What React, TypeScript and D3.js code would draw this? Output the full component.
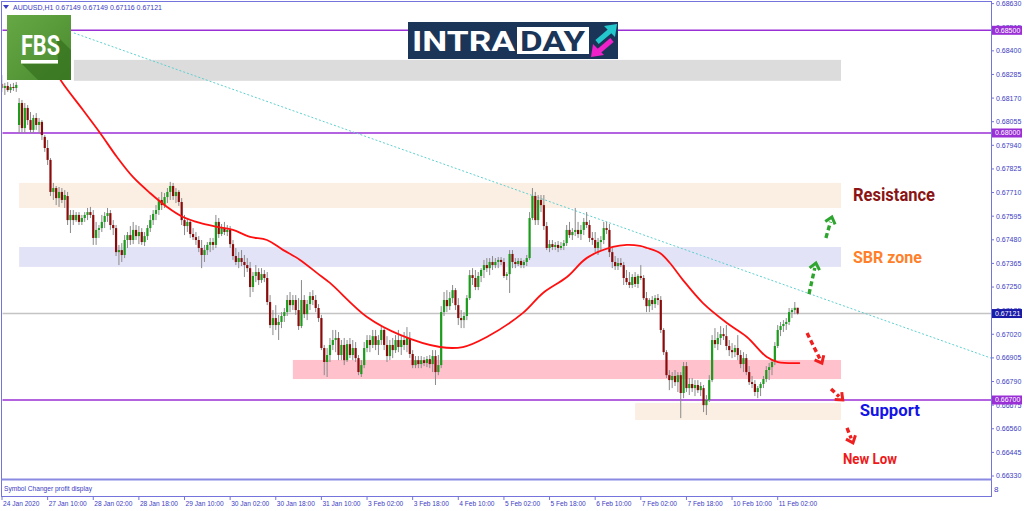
import React from 'react';
import * as d3 from 'd3';

type C = [number, number, number, number]; // open, high, low, close

// ---- hourly AUDUSD candles, one array per trading day ----
const jan24: C[] = [
  [0.68239, 0.68282, 0.68200, 0.68219], [0.68219, 0.68244, 0.68185, 0.68229], [0.68229, 0.68248, 0.68200, 0.68209],
  [0.68209, 0.68239, 0.68195, 0.68224], [0.68224, 0.68244, 0.68205, 0.68219], [0.68219, 0.68248, 0.68200, 0.68234],
];
const jan27: C[] = [
  [0.68039, 0.68170, 0.68000, 0.68146], [0.68146, 0.68161, 0.68000, 0.68024], [0.68024, 0.68146, 0.68000, 0.68122],
  [0.68122, 0.68136, 0.68039, 0.68063], [0.68063, 0.68102, 0.68000, 0.68015], [0.68015, 0.68088, 0.68000, 0.68073],
  [0.68073, 0.68097, 0.68015, 0.68039], [0.68039, 0.68073, 0.68000, 0.68054], [0.68054, 0.68063, 0.67966, 0.67990],
  [0.67981, 0.67990, 0.67908, 0.67927], [0.67927, 0.67966, 0.67844, 0.67869], [0.67869, 0.67878, 0.67693, 0.67713],
  [0.67713, 0.67757, 0.67674, 0.67732], [0.67732, 0.67742, 0.67649, 0.67683], [0.67683, 0.67737, 0.67640, 0.67713],
  [0.67713, 0.67732, 0.67659, 0.67674], [0.67674, 0.67722, 0.67635, 0.67698], [0.67693, 0.67713, 0.67552, 0.67576],
  [0.67576, 0.67625, 0.67513, 0.67601], [0.67601, 0.67625, 0.67552, 0.67576], [0.67576, 0.67615, 0.67567, 0.67601],
  [0.67601, 0.67615, 0.67552, 0.67567], [0.67567, 0.67601, 0.67552, 0.67586], [0.67586, 0.67615, 0.67567, 0.67601],
];
const jan28: C[] = [
  [0.67601, 0.67635, 0.67576, 0.67615], [0.67615, 0.67640, 0.67586, 0.67601], [0.67601, 0.67625, 0.67455, 0.67489],
  [0.67489, 0.67567, 0.67455, 0.67528], [0.67528, 0.67552, 0.67489, 0.67537], [0.67537, 0.67601, 0.67518, 0.67567],
  [0.67567, 0.67615, 0.67537, 0.67596], [0.67596, 0.67635, 0.67567, 0.67610], [0.67610, 0.67625, 0.67528, 0.67552],
  [0.67552, 0.67576, 0.67503, 0.67537], [0.67537, 0.67552, 0.67401, 0.67420], [0.67420, 0.67455, 0.67357, 0.67430],
  [0.67430, 0.67464, 0.67372, 0.67406], [0.67406, 0.67503, 0.67391, 0.67479], [0.67479, 0.67518, 0.67440, 0.67503],
  [0.67503, 0.67547, 0.67455, 0.67479], [0.67479, 0.67567, 0.67459, 0.67528], [0.67528, 0.67552, 0.67479, 0.67498],
  [0.67498, 0.67547, 0.67459, 0.67518], [0.67518, 0.67537, 0.67455, 0.67469], [0.67469, 0.67518, 0.67450, 0.67498],
  [0.67498, 0.67552, 0.67479, 0.67537], [0.67537, 0.67601, 0.67518, 0.67576], [0.67576, 0.67625, 0.67552, 0.67606],
];
const jan29: C[] = [
  [0.67606, 0.67649, 0.67576, 0.67625], [0.67625, 0.67688, 0.67601, 0.67674], [0.67674, 0.67713, 0.67625, 0.67649],
  [0.67649, 0.67708, 0.67635, 0.67688], [0.67688, 0.67732, 0.67659, 0.67713], [0.67713, 0.67762, 0.67674, 0.67742],
  [0.67742, 0.67757, 0.67674, 0.67693], [0.67693, 0.67732, 0.67659, 0.67713], [0.67713, 0.67722, 0.67645, 0.67664],
  [0.67664, 0.67683, 0.67552, 0.67576], [0.67576, 0.67601, 0.67503, 0.67547], [0.67547, 0.67586, 0.67518, 0.67567],
  [0.67567, 0.67576, 0.67489, 0.67508], [0.67508, 0.67537, 0.67479, 0.67493], [0.67493, 0.67518, 0.67455, 0.67479],
  [0.67479, 0.67498, 0.67420, 0.67440], [0.67440, 0.67479, 0.67342, 0.67406], [0.67406, 0.67455, 0.67372, 0.67430],
  [0.67430, 0.67469, 0.67406, 0.67455], [0.67455, 0.67489, 0.67420, 0.67469], [0.67469, 0.67489, 0.67430, 0.67455],
  [0.67455, 0.67601, 0.67440, 0.67567], [0.67567, 0.67586, 0.67489, 0.67508], [0.67508, 0.67557, 0.67498, 0.67537],
];
const jan30: C[] = [
  [0.67537, 0.67567, 0.67503, 0.67518], [0.67518, 0.67552, 0.67498, 0.67528], [0.67528, 0.67547, 0.67440, 0.67459],
  [0.67459, 0.67479, 0.67382, 0.67401], [0.67401, 0.67440, 0.67357, 0.67372], [0.67372, 0.67420, 0.67342, 0.67391],
  [0.67391, 0.67430, 0.67352, 0.67372], [0.67372, 0.67406, 0.67299, 0.67357], [0.67357, 0.67391, 0.67323, 0.67342],
  [0.67342, 0.67372, 0.67201, 0.67250], [0.67250, 0.67323, 0.67226, 0.67304], [0.67304, 0.67357, 0.67274, 0.67323],
  [0.67323, 0.67342, 0.67260, 0.67284], [0.67284, 0.67342, 0.67270, 0.67313], [0.67313, 0.67333, 0.67274, 0.67294],
  [0.67294, 0.67323, 0.67162, 0.67177], [0.67177, 0.67211, 0.67050, 0.67065], [0.67065, 0.67138, 0.67016, 0.67099],
  [0.67099, 0.67162, 0.67041, 0.67065], [0.67065, 0.67114, 0.66992, 0.67080], [0.67080, 0.67128, 0.67050, 0.67109],
  [0.67109, 0.67148, 0.67080, 0.67128], [0.67128, 0.67211, 0.67109, 0.67187], [0.67187, 0.67226, 0.67128, 0.67162],
];
const jan31: C[] = [
  [0.67162, 0.67211, 0.67138, 0.67187], [0.67187, 0.67211, 0.67114, 0.67138], [0.67138, 0.67196, 0.67041, 0.67060],
  [0.67060, 0.67284, 0.67050, 0.67187], [0.67187, 0.67211, 0.67099, 0.67118], [0.67118, 0.67187, 0.67089, 0.67167],
  [0.67167, 0.67226, 0.67138, 0.67206], [0.67206, 0.67235, 0.67162, 0.67187], [0.67187, 0.67211, 0.67128, 0.67148],
  [0.67148, 0.67167, 0.67080, 0.67099], [0.67099, 0.67114, 0.66943, 0.66953], [0.66953, 0.66968, 0.66821, 0.66885],
  [0.66885, 0.66953, 0.66812, 0.66919], [0.66919, 0.67002, 0.66885, 0.66968], [0.66968, 0.67041, 0.66943, 0.66992],
  [0.66992, 0.67041, 0.66933, 0.67002], [0.67002, 0.67031, 0.66894, 0.66919], [0.66919, 0.66992, 0.66894, 0.66968],
  [0.66968, 0.67002, 0.66870, 0.66894], [0.66894, 0.66992, 0.66885, 0.66972], [0.66972, 0.67002, 0.66904, 0.66919],
  [0.66919, 0.66992, 0.66894, 0.66953], [0.66953, 0.66982, 0.66885, 0.66904], [0.66904, 0.66919, 0.66821, 0.66836],
];
const feb3: C[] = [
  [0.66826, 0.66894, 0.66812, 0.66870], [0.66870, 0.66982, 0.66855, 0.66953], [0.66953, 0.67016, 0.66933, 0.66992],
  [0.66992, 0.67016, 0.66933, 0.66968], [0.66968, 0.67041, 0.66953, 0.67011], [0.67011, 0.67041, 0.66943, 0.66968],
  [0.66968, 0.67016, 0.66919, 0.66992], [0.66992, 0.67060, 0.66968, 0.67041], [0.67041, 0.67050, 0.66943, 0.66968],
  [0.66968, 0.67011, 0.66885, 0.66914], [0.66914, 0.66992, 0.66894, 0.66968], [0.66968, 0.67002, 0.66904, 0.66943],
  [0.66943, 0.67016, 0.66929, 0.66992], [0.66992, 0.67041, 0.66933, 0.66958], [0.66958, 0.67016, 0.66919, 0.66992],
  [0.66992, 0.67031, 0.66943, 0.66968], [0.66968, 0.67055, 0.66933, 0.67002], [0.67002, 0.67031, 0.66904, 0.66924],
  [0.66924, 0.66943, 0.66855, 0.66870], [0.66870, 0.66914, 0.66855, 0.66894], [0.66894, 0.66914, 0.66855, 0.66875],
  [0.66875, 0.66914, 0.66855, 0.66894], [0.66894, 0.66909, 0.66865, 0.66880], [0.66880, 0.66914, 0.66860, 0.66899],
];
const feb4: C[] = [
  [0.66899, 0.66919, 0.66855, 0.66875], [0.66875, 0.66943, 0.66836, 0.66914], [0.66914, 0.66943, 0.66773, 0.66836],
  [0.66836, 0.66919, 0.66821, 0.66870], [0.66870, 0.67157, 0.66855, 0.67128], [0.67128, 0.67226, 0.67109, 0.67187],
  [0.67187, 0.67235, 0.67128, 0.67157], [0.67157, 0.67226, 0.67138, 0.67196], [0.67196, 0.67260, 0.67172, 0.67235],
  [0.67235, 0.67245, 0.67138, 0.67162], [0.67162, 0.67196, 0.67065, 0.67099], [0.67099, 0.67138, 0.67050, 0.67089],
  [0.67089, 0.67128, 0.67050, 0.67109], [0.67109, 0.67211, 0.67089, 0.67196], [0.67196, 0.67333, 0.67187, 0.67308],
  [0.67308, 0.67342, 0.67260, 0.67294], [0.67294, 0.67333, 0.67235, 0.67250], [0.67250, 0.67323, 0.67235, 0.67304],
  [0.67304, 0.67342, 0.67274, 0.67333], [0.67333, 0.67382, 0.67294, 0.67357], [0.67357, 0.67391, 0.67323, 0.67342],
  [0.67342, 0.67391, 0.67308, 0.67372], [0.67372, 0.67401, 0.67333, 0.67357], [0.67357, 0.67391, 0.67342, 0.67372],
];
const feb5: C[] = [
  [0.67372, 0.67396, 0.67342, 0.67382], [0.67382, 0.67396, 0.67357, 0.67372], [0.67372, 0.67391, 0.67294, 0.67304],
  [0.67304, 0.67323, 0.67284, 0.67313], [0.67313, 0.67430, 0.67221, 0.67411], [0.67411, 0.67430, 0.67342, 0.67372],
  [0.67372, 0.67391, 0.67342, 0.67362], [0.67362, 0.67391, 0.67352, 0.67377], [0.67377, 0.67391, 0.67342, 0.67357],
  [0.67357, 0.67382, 0.67342, 0.67372], [0.67372, 0.67406, 0.67352, 0.67391], [0.67391, 0.67615, 0.67382, 0.67586],
  [0.67586, 0.67732, 0.67576, 0.67693], [0.67693, 0.67713, 0.67552, 0.67576], [0.67576, 0.67698, 0.67552, 0.67674],
  [0.67674, 0.67698, 0.67615, 0.67649], [0.67649, 0.67698, 0.67528, 0.67547], [0.67547, 0.67567, 0.67430, 0.67440],
  [0.67440, 0.67479, 0.67420, 0.67459], [0.67459, 0.67479, 0.67430, 0.67445], [0.67445, 0.67469, 0.67430, 0.67455],
  [0.67455, 0.67474, 0.67420, 0.67440], [0.67440, 0.67469, 0.67430, 0.67450], [0.67450, 0.67479, 0.67430, 0.67464],
];
const feb6: C[] = [
  [0.67464, 0.67552, 0.67450, 0.67528], [0.67528, 0.67567, 0.67489, 0.67503], [0.67503, 0.67537, 0.67479, 0.67518],
  [0.67518, 0.67635, 0.67498, 0.67528], [0.67528, 0.67567, 0.67489, 0.67508], [0.67508, 0.67552, 0.67479, 0.67528],
  [0.67528, 0.67586, 0.67503, 0.67567], [0.67567, 0.67615, 0.67537, 0.67552], [0.67552, 0.67576, 0.67469, 0.67489],
  [0.67489, 0.67518, 0.67455, 0.67479], [0.67479, 0.67518, 0.67420, 0.67440], [0.67440, 0.67489, 0.67406, 0.67469],
  [0.67469, 0.67498, 0.67430, 0.67479], [0.67479, 0.67567, 0.67459, 0.67537], [0.67537, 0.67567, 0.67508, 0.67528],
  [0.67528, 0.67557, 0.67396, 0.67420], [0.67420, 0.67440, 0.67342, 0.67372], [0.67372, 0.67401, 0.67333, 0.67352],
  [0.67352, 0.67391, 0.67333, 0.67367], [0.67367, 0.67391, 0.67347, 0.67357], [0.67357, 0.67372, 0.67260, 0.67294],
  [0.67294, 0.67333, 0.67260, 0.67274], [0.67274, 0.67323, 0.67245, 0.67260], [0.67260, 0.67313, 0.67245, 0.67299],
];
const feb7: C[] = [
  [0.67299, 0.67323, 0.67250, 0.67265], [0.67265, 0.67313, 0.67245, 0.67304], [0.67304, 0.67357, 0.67284, 0.67294],
  [0.67294, 0.67308, 0.67187, 0.67196], [0.67196, 0.67226, 0.67128, 0.67157], [0.67157, 0.67196, 0.67128, 0.67187],
  [0.67187, 0.67206, 0.67138, 0.67167], [0.67167, 0.67211, 0.67148, 0.67196], [0.67196, 0.67216, 0.67162, 0.67187],
  [0.67187, 0.67206, 0.67026, 0.67041], [0.67041, 0.67050, 0.66919, 0.66933], [0.66933, 0.66943, 0.66807, 0.66821],
  [0.66821, 0.66846, 0.66748, 0.66797], [0.66797, 0.66836, 0.66758, 0.66817], [0.66817, 0.66846, 0.66768, 0.66787],
  [0.66787, 0.66836, 0.66739, 0.66821], [0.66821, 0.66836, 0.66612, 0.66734], [0.66734, 0.66885, 0.66709, 0.66865],
  [0.66865, 0.66885, 0.66739, 0.66758], [0.66758, 0.66807, 0.66724, 0.66778], [0.66778, 0.66807, 0.66739, 0.66758],
  [0.66758, 0.66797, 0.66719, 0.66773], [0.66773, 0.66797, 0.66734, 0.66748], [0.66748, 0.66787, 0.66719, 0.66768],
];
const feb10: C[] = [
  [0.66758, 0.66773, 0.66641, 0.66675], [0.66675, 0.66724, 0.66627, 0.66700], [0.66700, 0.66821, 0.66690, 0.66797],
  [0.66797, 0.67016, 0.66787, 0.66992], [0.66992, 0.67050, 0.66953, 0.66972], [0.66972, 0.67031, 0.66943, 0.67002],
  [0.67002, 0.67060, 0.66968, 0.67021], [0.67021, 0.67050, 0.66992, 0.67011], [0.67011, 0.67065, 0.66943, 0.66963],
  [0.66963, 0.66992, 0.66914, 0.66943], [0.66943, 0.66977, 0.66904, 0.66933], [0.66933, 0.66968, 0.66909, 0.66953],
  [0.66953, 0.67016, 0.66894, 0.66919], [0.66919, 0.66943, 0.66855, 0.66875], [0.66875, 0.66933, 0.66836, 0.66904],
  [0.66904, 0.66924, 0.66821, 0.66836], [0.66836, 0.66865, 0.66773, 0.66787], [0.66787, 0.66817, 0.66758, 0.66778],
  [0.66778, 0.66797, 0.66719, 0.66739], [0.66739, 0.66768, 0.66709, 0.66758], [0.66758, 0.66787, 0.66719, 0.66778],
  [0.66778, 0.66817, 0.66758, 0.66802], [0.66802, 0.66865, 0.66787, 0.66846], [0.66846, 0.66880, 0.66797, 0.66860],
];
const feb11: C[] = [
  [0.66860, 0.66894, 0.66821, 0.66885], [0.66885, 0.66982, 0.66870, 0.66963], [0.66963, 0.67065, 0.66953, 0.67041],
  [0.67041, 0.67080, 0.67011, 0.67060], [0.67060, 0.67089, 0.67031, 0.67070], [0.67070, 0.67099, 0.67041, 0.67080],
  [0.67080, 0.67148, 0.67065, 0.67128], [0.67128, 0.67148, 0.67099, 0.67138], [0.67138, 0.67177, 0.67118, 0.67149],
  [0.67149, 0.67149, 0.67116, 0.67121],
];
const tradingDays = [jan24, jan27, jan28, jan29, jan30, jan31, feb3, feb4, feb5, feb6, feb7, feb10, feb11];

// moving average: [bar index, price]
const maPoints: [number, number][] = [
  [16, 0.68366], [21, 0.68248], [28.4, 0.68112], [34.4, 0.68000], [40.3, 0.67883], [45.9, 0.67786],
  [51.9, 0.67708], [57.9, 0.67640], [63.5, 0.67591], [69.4, 0.67562], [75.4, 0.67543], [81, 0.67528],
  [87, 0.67494], [92.9, 0.67479], [98.5, 0.67431], [104.5, 0.67382], [110.4, 0.67319], [115, 0.67270],
  [128, 0.67104], [139.6, 0.67017], [153.6, 0.66958], [161.6, 0.66958], [170, 0.67007], [182.7, 0.67124],
  [189.7, 0.67221], [198.1, 0.67299], [205.1, 0.67392], [214.2, 0.67445], [219.1, 0.67455], [223.7, 0.67450],
  [226.2, 0.67440], [230.7, 0.67416], [234.2, 0.67367], [238.8, 0.67284], [245.8, 0.67172], [254.2, 0.67075],
  [261.2, 0.67007], [268.2, 0.66909], [272.1, 0.66885], [279.8, 0.66880],
];

// price axis ticks
const priceTicks = [
  0.6633, 0.66445, 0.6656, 0.66675, 0.6679, 0.66905, 0.6702, 0.67135, 0.6725, 0.67365, 0.6748,
  0.67595, 0.6771, 0.67825, 0.6794, 0.68055, 0.6817, 0.68285, 0.684, 0.68515, 0.6863,
];
// time axis ticks: bar index + label
const timeTickBars = [0, 16, 32, 48, 64, 80, 96, 112, 128, 144, 160, 176, 192, 208, 224, 240, 256, 272];
const timeTickLabels = [
  '24 Jan 2020', '27 Jan 10:00', '28 Jan 02:00', '28 Jan 18:00', '29 Jan 10:00', '30 Jan 02:00',
  '30 Jan 18:00', '31 Jan 10:00', '3 Feb 02:00', '3 Feb 18:00', '4 Feb 10:00', '5 Feb 02:00',
  '5 Feb 18:00', '6 Feb 10:00', '7 Feb 02:00', '7 Feb 18:00', '10 Feb 10:00', '11 Feb 02:00',
];

const levelLines = [0.685, 0.68, 0.667];
const bidPrice = 0.67121;
const headerText = 'AUDUSD,H1  0.67149 0.67149 0.67116 0.67121';

// zones: [start bar, end bar, top price, bottom price]
const greyZone: [number, number, number, number] = [25.2, 294.2, 0.68356, 0.68254];
const resistanceZone: [number, number, number, number] = [6, 294.2, 0.67757, 0.67635];
const sbrZone: [number, number, number, number] = [6, 294.2, 0.67445, 0.67348];
const pinkZone: [number, number, number, number] = [102, 294.2, 0.66895, 0.66802];
const supportZone: [number, number, number, number] = [222, 294.2, 0.66685, 0.66603];

const trendPoints: [number, number][] = [[25.2, 0.68487], [346.8, 0.66904]];

// arrows: [from bar, from price, to bar, to price]
const greenArrows: [number, number, number, number][] = [
  [282.96, 0.67216, 285.4, 0.67367],
  [288.9, 0.67489, 291.0, 0.67591],
];
const redArrows: [number, number, number, number][] = [
  [282.3, 0.67026, 287.5, 0.66880],
  [290.7, 0.66754, 294.8, 0.66700],
  [296.3, 0.66564, 298.4, 0.66491],
];

// annotations: text, bar, baseline price
const annotations: [string, number, number][] = [
  ['Resistance', 298.4, 0.67669],
  ['SBR zone', 298.4, 0.67367],
  ['Support', 300.8, 0.66622],
  ['New Low', 294.9, 0.66388],
];

const COLORS = {
  frame: '#7474dc',
  axisText: '#3c3cc4',
  bull: '#1c9c1c',
  bear: '#8b0b0b',
  wick: '#8a8a8a',
  ma: '#ff1010',
  level: '#9a2fd6',
  bid: '#c4c4c4',
  bidBox: '#1a1aa8',
  trend: '#5fcfcf',
  grey: '#dcdcdc',
  peach: '#fbeee3',
  lavender: '#e3e3f7',
  pink: '#ffc1cc',
  green: '#2ea52e',
  red: '#ee2020',
};
const annColors = ['#8b1414', '#ff7f2a', '#1414e6', '#ee1a1a'];
const annSizes = [19, 16, 16, 14];
const annWidths = [82, 69, 60, 54];

function Arrow({ x1, y1, x2, y2, color }: any) {
  const ang = Math.atan2(y2 - y1, x2 - x1);
  const len = 8;
  const a1 = ang + Math.PI * 0.78;
  const a2 = ang - Math.PI * 0.78;
  const p1 = [x2 + len * Math.cos(a1), y2 + len * Math.sin(a1)];
  const p2 = [x2 + len * Math.cos(a2), y2 + len * Math.sin(a2)];
  const sx = x2 - 5 * Math.cos(ang);
  const sy = y2 - 5 * Math.sin(ang);
  return (
    <g>
      <line x1={x1} y1={y1} x2={sx} y2={sy} stroke={color} strokeWidth={3.4} strokeDasharray="5 3" />
      <polyline points={`${p1[0]},${p1[1]} ${x2},${y2} ${p2[0]},${p2[1]}`} fill="none" stroke={color}
        strokeWidth={3} strokeLinejoin="miter" />
    </g>
  );
}

export default function App() {
  const candles = tradingDays.flat();
  const x = d3.scaleLinear().domain([0, 272]).range([2, 777.7]);
  const y = d3.scaleLinear().domain([0.6633, 0.6863]).range([476, 3.6]);
  const plotL = 2, plotR = 991, plotT = 1, plotB = 479;

  const maPath = d3.line<[number, number]>()
    .x(d => x(d[0])).y(d => y(d[1]))
    .curve(d3.curveCatmullRom.alpha(0.5))(maPoints) || '';

  const zone = (z: [number, number, number, number], fill: string, key: string) => (
    <rect key={key} x={x(z[0])} y={y(z[2])} width={x(z[1]) - x(z[0])} height={y(z[3]) - y(z[2])} fill={fill} />
  );

  const axisFont = '"Liberation Sans", Arial, sans-serif';
  const boldFont = 'Roboto, "Open Sans", "Liberation Sans", sans-serif';

  return (
    <svg width={1024} height={511} viewBox="0 0 1024 511"
      style={{ position: 'absolute', left: 0, top: 0, background: '#fff', display: 'block' }}>
      <defs>
        <clipPath id="plotClip">
          <rect x={plotL + 0.5} y={plotT + 0.5} width={plotR - plotL - 0.5} height={plotB - plotT - 1} />
        </clipPath>
        <linearGradient id="fbsGrad" x1="0" y1="0" x2="1" y2="1">
          <stop offset="0" stopColor="#66a844" />
          <stop offset="1" stopColor="#4a8a30" />
        </linearGradient>
      </defs>
      <rect x={0} y={0} width={1024} height={511} fill="#ffffff" />

      <g clipPath="url(#plotClip)">
        {zone(greyZone, COLORS.grey, 'gz')}
        {zone(resistanceZone, COLORS.peach, 'rz')}
        {zone(sbrZone, COLORS.lavender, 'sz')}
        {zone(pinkZone, COLORS.pink, 'pz')}
        {zone(supportZone, COLORS.peach, 'supz')}

        <line x1={plotL} x2={plotR} y1={y(bidPrice)} y2={y(bidPrice)} stroke={COLORS.bid} strokeWidth={1.5} />
        {levelLines.map((p, i) => (
          <line key={'lv' + i} x1={plotL} x2={plotR} y1={y(p)} y2={y(p)} stroke={COLORS.level} strokeWidth={1.6} />
        ))}
        <line x1={x(trendPoints[0][0])} y1={y(trendPoints[0][1])} x2={x(trendPoints[1][0])} y2={y(trendPoints[1][1])}
          stroke={COLORS.trend} strokeWidth={1} strokeDasharray="2 2" />

        {candles.map((c, i) => {
          const cx = x(i);
          const [o, h, l, cl] = c;
          const bull = cl >= o;
          const top = y(Math.max(o, cl));
          const bot = y(Math.min(o, cl));
          return (
            <g key={'c' + i}>
              <line x1={cx} x2={cx} y1={y(h)} y2={y(l)} stroke={COLORS.wick} strokeWidth={1} />
              <rect x={cx - 1.1} y={top} width={2.2} height={Math.max(1, bot - top)} fill={bull ? COLORS.bull : COLORS.bear} />
            </g>
          );
        })}

        <path d={maPath} fill="none" stroke={COLORS.ma} strokeWidth={1.8} />

        {greenArrows.map((a, i) => (
          <Arrow key={'ga' + i} x1={x(a[0])} y1={y(a[1])} x2={x(a[2])} y2={y(a[3])} color={COLORS.green} />
        ))}
        {redArrows.map((a, i) => (
          <Arrow key={'ra' + i} x1={x(a[0])} y1={y(a[1])} x2={x(a[2])} y2={y(a[3])} color={COLORS.red} />
        ))}

        {annotations.map((a, i) => (
          <text key={'an' + i} x={x(a[1])} y={y(a[2])} fill={annColors[i]} fontFamily={boldFont} fontWeight={700}
            fontSize={annSizes[i]} textLength={annWidths[i]} lengthAdjust="spacingAndGlyphs">{a[0]}</text>
        ))}
      </g>

      {/* FBS logo */}
      <g>
        <rect x={7} y={15} width={64} height={65} fill="url(#fbsGrad)" />
        <polygon points="57,36 71,50 71,80 38,80 22,64 58,64" fill="#37731f" opacity={0.75} />
        <text x={21} y={55} fill="#ffffff" fontFamily={boldFont} fontWeight={700} fontSize={27}
          textLength={39} lengthAdjust="spacingAndGlyphs">FBS</text>
        <rect x={21} y={60} width={37} height={3.5} fill="#ffffff" />
      </g>

      {/* INTRADAY logo */}
      <g>
        <rect x={408} y={22} width={210} height={37} fill="#1b3558" />
        <text x={412} y={50.5} fill="#ffffff" fontFamily={boldFont} fontWeight={700} fontSize={27}
          textLength={103} lengthAdjust="spacingAndGlyphs">INTRA</text>
        <rect x={517} y={27} width={72} height={27} fill="#ffffff" />
        <text x={520} y={50.5} fill="#1b3558" fontFamily={boldFont} fontWeight={700} fontSize={27}
          textLength={65} lengthAdjust="spacingAndGlyphs">DAY</text>
        <line x1={597} y1={42} x2={610} y2={31} stroke="#22c8cc" strokeWidth={5} />
        <polygon points="617,24 604,26 615,37" fill="#22c8cc" />
        <line x1={612} y1={40} x2={599} y2={51} stroke="#ee22c8" strokeWidth={5} />
        <polygon points="591,57 593,44 604,55" fill="#ee22c8" />
      </g>

      {/* frame */}
      <g fill="none" stroke={COLORS.frame} strokeWidth={1}>
        <line x1={1.5} y1={1} x2={1.5} y2={497} />
        <line x1={1.5} y1={1.5} x2={991.5} y2={1.5} />
        <line x1={991.5} y1={1} x2={991.5} y2={497} />
        <line x1={1.5} y1={496.5} x2={991.5} y2={496.5} />
        <line x1={1.5} y1={479.5} x2={991.5} y2={479.5} strokeWidth={2} stroke="#8a8ae2" />
      </g>

      {/* header */}
      <polygon points="3,5 9,5 6,9" fill={COLORS.axisText} />
      <text x={13} y={9.5} fill={COLORS.axisText} fontFamily={axisFont} fontSize={7}>{headerText}</text>

      {/* sub window */}
      <text x={4} y={490.5} fill={COLORS.axisText} fontFamily={axisFont} fontSize={6.6}>Symbol Changer profit display</text>
      <text x={994} y={492} fill={COLORS.axisText} fontFamily={axisFont} fontSize={8}>8</text>

      {/* price axis */}
      {priceTicks.map((p, i) => (
        <g key={'pt' + i}>
          <line x1={991} x2={994} y1={y(p)} y2={y(p)} stroke={COLORS.frame} />
          <text x={996} y={y(p)} dy="0.35em" fill={COLORS.axisText} fontFamily={axisFont} fontSize={7}>{p.toFixed(5)}</text>
        </g>
      ))}
      {levelLines.map((p, i) => (
        <g key={'lb' + i}>
          <rect x={992} y={y(p) - 4.5} width={30} height={9} fill={COLORS.level} />
          <text x={995} y={y(p)} dy="0.35em" fill="#ffffff" fontFamily={axisFont} fontSize={7}>{p.toFixed(5)}</text>
        </g>
      ))}
      <rect x={992} y={y(bidPrice) - 4.5} width={30} height={9} fill={COLORS.bidBox} />
      <text x={995} y={y(bidPrice)} dy="0.35em" fill="#ffffff" fontFamily={axisFont} fontSize={7}>{bidPrice.toFixed(5)}</text>

      {/* time axis */}
      {timeTickBars.map((b, i) => (
        <g key={'tt' + i}>
          <line x1={x(b)} x2={x(b)} y1={496.5} y2={500} stroke={COLORS.frame} />
          <text x={x(b) + 1} y={505.5} fill={COLORS.axisText} fontFamily={axisFont} fontSize={6.6}>{timeTickLabels[i]}</text>
        </g>
      ))}
    </svg>
  );
}
